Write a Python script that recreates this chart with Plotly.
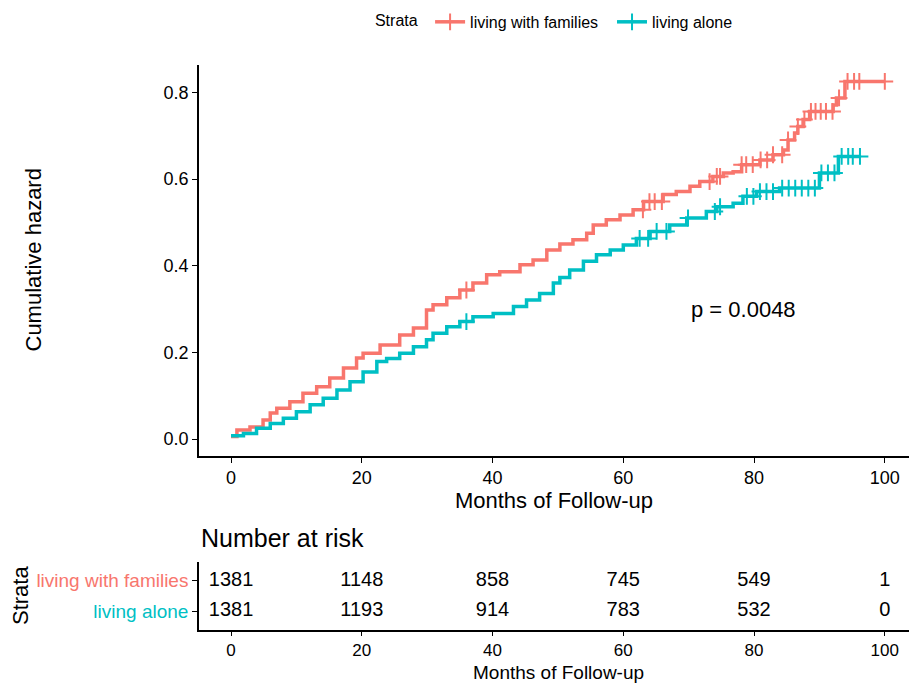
import numpy as np
import plotly.graph_objects as go

# ---------------- data ----------------
strata = ["living with families", "living alone"]
colors = ["#F8766D", "#00BFC4"]

fam_time = [0, 0.9, 2.9, 4.9, 6, 7, 9, 11, 13.1, 15.1, 17.2, 19.2, 20.2, 22.8, 25.8, 27.9,
            29.9, 30.9, 33, 35, 37, 39.1, 41.1, 44.2, 46.2, 48.3, 50.3, 52.3, 54.4, 55.4,
            57.4, 59.5, 61.5, 63.1, 66.1, 68.1, 70.2, 71.7, 73.7, 75.3, 76.8, 78.1, 80.9,
            82.9, 84.5, 85.2, 86.2, 86.7, 87.5, 88.5, 92.1, 92.6, 93.9, 100]
fam_haz = [0.006, 0.021, 0.028, 0.044, 0.060, 0.071, 0.086, 0.106, 0.121, 0.141, 0.164,
           0.187, 0.198, 0.217, 0.240, 0.256, 0.298, 0.310, 0.326, 0.344, 0.360, 0.379,
           0.386, 0.402, 0.413, 0.436, 0.450, 0.460, 0.475, 0.494, 0.506, 0.517, 0.529,
           0.548, 0.564, 0.571, 0.583, 0.594, 0.606, 0.614, 0.617, 0.633, 0.644, 0.656,
           0.667, 0.690, 0.706, 0.721, 0.737, 0.756, 0.771, 0.787, 0.825, 0.825]
fam_censor = [36, 63.0, 64.0, 64.8, 65.9, 73.2, 74.3, 74.8, 78.1, 78.8, 79.8, 81, 82, 82.9,
              84.3, 85.2, 86.7, 87.7, 88.7, 89.4, 90.2, 91, 92, 93, 94.3, 95.3, 96.1, 100]

alone_time = [0, 1.9, 3.9, 6, 8, 10, 12.1, 14.1, 16.2, 18.2, 20.2, 22.3, 23.8, 25.8, 27.9,
              29.9, 30.9, 33, 35, 37, 40.1, 43.2, 45.2, 47.2, 49.3, 50.3, 51.8, 53.9, 55.9,
              58, 60, 62, 64.1, 67.1, 69.7, 72.7, 74.3, 76.8, 78.3, 80.4, 83.9, 90, 92.9, 96.2]
alone_haz = [0.008, 0.013, 0.025, 0.036, 0.048, 0.063, 0.079, 0.094, 0.113, 0.132, 0.155,
             0.179, 0.186, 0.198, 0.213, 0.229, 0.244, 0.259, 0.271, 0.282, 0.290, 0.306,
             0.321, 0.336, 0.360, 0.373, 0.390, 0.410, 0.425, 0.436, 0.448, 0.463, 0.479,
             0.494, 0.510, 0.525, 0.536, 0.544, 0.560, 0.571, 0.579, 0.614, 0.652, 0.652]
alone_censor = [36, 62.5, 63.8, 65.1, 66.6, 69.9, 74, 74.8, 78.9, 79.9, 80.9, 81.9, 82.9,
                84.3, 85.3, 86.3, 87.3, 88.3, 89.3, 90.3, 91.3, 92.3, 93.4, 94.4, 95.1, 96.2]

risk_times = [0, 20, 40, 60, 80, 100]
risk_fam = [1381, 1148, 858, 745, 549, 1]
risk_alone = [1381, 1193, 914, 783, 532, 0]

x_ticks = [0, 20, 40, 60, 80, 100]
y_ticks = [0.0, 0.2, 0.4, 0.6, 0.8]
p_text = "p = 0.0048"
x_title = "Months of Follow-up"

FONT = "Liberation Sans, Arial, sans-serif"


def step_value(times, haz, t):
    idx = np.searchsorted(np.array(times), t, side="right") - 1
    return np.array(haz)[np.clip(idx, 0, len(haz) - 1)]


fig = go.Figure()

curves = [(fam_time, fam_haz, fam_censor), (alone_time, alone_haz, alone_censor)]
for (t, h, c), name, col in zip(curves, strata, colors):
    fig.add_trace(go.Scatter(x=t, y=h, mode="lines", line=dict(color=col, width=3.5, shape="hv"),
                             showlegend=False, hoverinfo="skip", xaxis="x", yaxis="y"))
    fig.add_trace(go.Scatter(x=c, y=step_value(t, h, c), mode="markers",
                             marker=dict(symbol="cross-thin", size=12, line=dict(color=col, width=2)),
                             showlegend=False, hoverinfo="skip", xaxis="x", yaxis="y"))
    # legend entry
    fig.add_trace(go.Scatter(x=[None], y=[None], mode="lines+markers", name=name + "  ",
                             line=dict(color=col, width=3.5),
                             marker=dict(symbol="cross-thin", size=12, line=dict(color=col, width=2)),
                             xaxis="x", yaxis="y"))

# risk table
for vals, ypos in [(risk_fam, 2), (risk_alone, 1)]:
    fig.add_trace(go.Scatter(x=risk_times, y=[ypos] * len(vals), mode="text",
                             text=[str(v) for v in vals],
                             textfont=dict(family=FONT, size=20, color="black"),
                             showlegend=False, hoverinfo="skip", xaxis="x2", yaxis="y2"))

axis_common = dict(showline=True, linecolor="black", linewidth=1.5, ticks="outside",
                   ticklen=5, tickwidth=1.2, tickcolor="black", showgrid=False, zeroline=False,
                   tickfont=dict(family=FONT, size=18, color="black"))

main_bottom = 456
risk_top = 562
plot_top = 65
plot_bottom = 630
H = plot_bottom - plot_top

fig.update_layout(
    width=909, height=685,
    margin=dict(l=199, r=0, t=plot_top, b=685 - plot_bottom),
    plot_bgcolor="white", paper_bgcolor="white",
    font=dict(family=FONT, color="black"),
    xaxis=dict(domain=[0, 1], anchor="y", range=[-4.9, 103.7], tickvals=x_ticks,
               title=dict(text=x_title, font=dict(size=22), standoff=3),
               **axis_common),
    yaxis=dict(domain=[(plot_bottom - main_bottom) / H, 1], anchor="x", range=[-0.039, 0.863],
               tickvals=y_ticks, tickformat=".1f", **axis_common),
    xaxis2=dict(domain=[0, 1], anchor="y2", range=[-4.9, 103.7], tickvals=x_ticks,
                **{**axis_common, "ticklen": 4, "tickfont": dict(family=FONT, size=17)}),
    yaxis2=dict(domain=[0, (plot_bottom - risk_top) / H], anchor="x2", range=[0.4, 2.6],
                tickvals=[2, 1],
                ticktext=[f'<span style="color:{colors[0]}">{strata[0]}</span>',
                          f'<span style="color:{colors[1]}">{strata[1]}</span>'],
                **{**axis_common, "tickfont": dict(family=FONT, size=19)}),
    legend=dict(orientation="h", xref="container", yref="container", x=0.616, y=0.968,
                xanchor="center", yanchor="middle", title=dict(text="Strata ", font=dict(size=16)),
                font=dict(family=FONT, size=16), itemwidth=30, bgcolor="rgba(0,0,0,0)"),
    annotations=[
        dict(text=p_text, x=70, y=0.3, xref="x", yref="y", xanchor="left", yanchor="middle",
             showarrow=False, font=dict(family=FONT, size=22)),
        dict(text="Cumulative hazard", x=(33 - 199) / 710, y=0.5 * (1 + (plot_bottom - main_bottom) / H),
             xref="paper", yref="paper", textangle=-90, showarrow=False,
             font=dict(family=FONT, size=22), xanchor="center", yanchor="middle"),
        dict(text="Strata", x=(20 - 199) / 710, y=(plot_bottom - 596) / H,
             xref="paper", yref="paper", textangle=-90, showarrow=False,
             font=dict(family=FONT, size=22), xanchor="center", yanchor="middle"),
        dict(text="Number at risk", x=0, y=(plot_bottom - 538) / H, xref="paper", yref="paper",
             xanchor="left", yanchor="middle", showarrow=False, font=dict(family=FONT, size=25)),
        dict(text=x_title, x=(558 - 199) / 710, y=(plot_bottom - 672) / H, xref="paper", yref="paper",
             xanchor="center", yanchor="middle", showarrow=False, font=dict(family=FONT, size=19)),
    ],
)

fig.write_html("out.html")
